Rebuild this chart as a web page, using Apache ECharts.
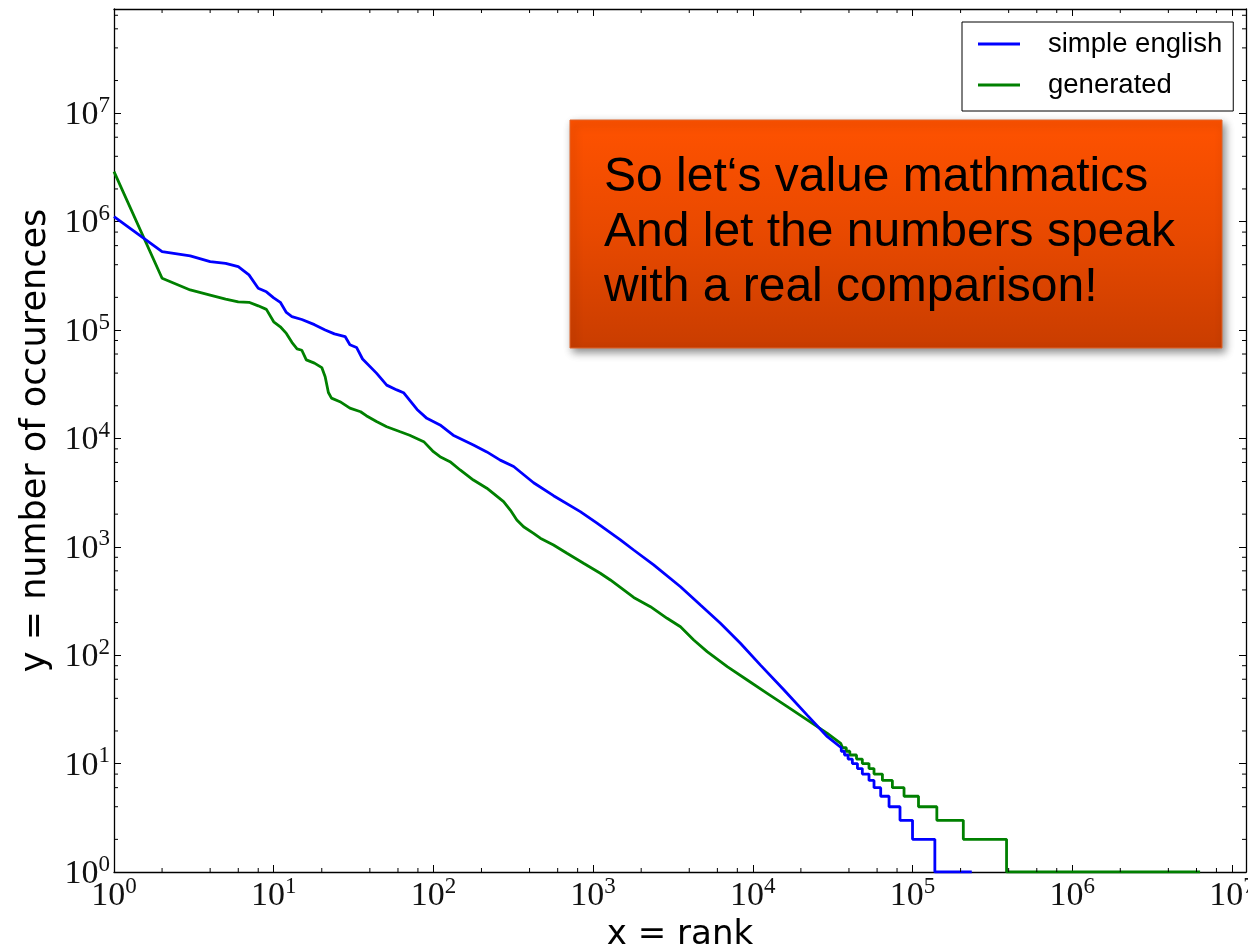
<!DOCTYPE html>
<html>
<head>
<meta charset="utf-8">
<script src="https://cdn.jsdelivr.net/npm/echarts@6/dist/echarts.min.js"></script>
<style>
  html, body { margin: 0; padding: 0; background: #ffffff; }
  #chart { width: 1248px; height: 951px; }
</style>
</head>
<body>
<div id="chart"></div>
<script>
// Rank / frequency of words, simple english vs generated text
const seriesNames = ['simple english', 'generated'];

const blueRank = [1, 2, 3, 4, 5, 6, 7, 8, 9, 10, 11, 12, 13,
  15, 18, 21, 24, 28, 30, 33, 36,
  44, 51, 59, 65, 79, 91,
  110, 133, 178, 216, 262, 318,
  424, 565, 831, 1058, 1482, 1795,
  2394, 3524, 4700, 6268, 8360,
  11170, 15630, 21900, 29300,
  35800, 35800, 37500, 37500, 39500, 39500, 42000, 42000, 45200, 45200,
  48500, 48500, 53400, 53400, 57400, 57400, 63200, 63200, 71300, 71300,
  83500, 83500, 100000, 100000, 138000, 138000, 235000];
const blueCount = [1.11e6, 5.28e5, 4.82e5, 4.27e5, 4.12e5, 3.84e5, 3.22e5, 2.43e5, 2.25e5, 1.98e5, 1.8e5, 1.45e5, 1.33e5,
  1.25e5, 1.12e5, 1.0e5, 9.2e4, 8.7e4, 7.3e4, 6.9e4, 5.4e4,
  4.0e4, 3.1e4, 2.8e4, 2.64e4, 1.85e4, 1.53e4,
  1.33e4, 1.07e4, 8.7e3, 7.5e3, 6.3e3, 5.5e3,
  3.9e3, 2.96e3, 2.11e3, 1.65e3, 1.16e3, 934,
  680, 428, 290, 197, 129,
  81, 48, 28, 17.7,
  14, 13, 13, 12, 12, 11, 11, 10, 10, 9,
  9, 8, 8, 7, 7, 6, 6, 5, 5, 4,
  4, 3, 3, 2, 2, 1, 1];

const greenRank = [1, 2, 3, 4, 5, 6, 7, 8, 9, 10, 11, 12, 13, 14, 15, 16,
  18, 20, 21, 22, 23, 26, 30, 35, 38,
  44, 51, 62, 71, 87, 100,
  110, 127, 147, 178, 216, 275,
  303, 333, 367, 424, 467, 565,
  686, 871, 1109, 1282, 1795, 2285,
  2906, 3524, 4266, 5176, 6918, 9226,
  12300, 16440, 21900, 29300, 35500,
  36500, 36500, 38500, 38500, 40500, 40500, 44600, 44600, 48500, 48500,
  53400, 53400, 57400, 57400, 64800, 64800, 74800, 74800, 88500, 88500,
  109000, 109000, 142000, 142000, 208000, 208000, 388000, 388000, 6320000];
const greenCount = [2.89e6, 3.0e5, 2.34e5, 2.1e5, 1.93e5, 1.82e5, 1.8e5, 1.67e5, 1.55e5, 1.19e5, 1.07e5, 9.3e4, 7.7e4, 6.7e4, 6.5e4, 5.3e4,
  4.95e4, 4.5e4, 3.7e4, 2.65e4, 2.35e4, 2.18e4, 1.9e4, 1.76e4, 1.62e4,
  1.43e4, 1.28e4, 1.15e4, 1.07e4, 9.33e3, 7.54e3,
  6.78e3, 6.1e3, 5.11e3, 4.13e3, 3.47e3, 2.61e3,
  2.18e3, 1.77e3, 1.53e3, 1.33e3, 1.2e3, 1.04e3,
  871, 705, 570, 494, 341, 280,
  219, 183, 138, 108, 78.3, 59,
  44.5, 33.5, 25.3, 19.0, 15.4,
  15, 14, 14, 13, 13, 12, 12, 11, 11, 10,
  10, 9, 9, 8, 8, 7, 7, 6, 6, 5,
  5, 4, 4, 3, 3, 2, 2, 1, 1];

// axis ranges and minor tick multipliers (2, 4, 6, 8 in every decade)
const xRange = [1, 1.225e7];
const yRange = [1, 9.14e7];
const minorMultipliers = [2, 4, 6, 8];
const xDecades = [1, 10, 100, 1e3, 1e4, 1e5, 1e6];
const yDecades = [1, 10, 100, 1e3, 1e4, 1e5, 1e6, 1e7];

const calloutLines = ['So let\u2018s value mathmatics', 'And let the numbers speak', 'with a real comparison!'];

function minorTicks(decades, range) {
  const out = [];
  decades.forEach(d => minorMultipliers.forEach(m => {
    const v = d * m;
    if (v > range[0] && v < range[1]) out.push(v);
  }));
  return out;
}
const xMinor = minorTicks(xDecades, xRange);
const yMinor = minorTicks(yDecades, yRange);

function powLabel(v) {
  const e = Math.log10(v);
  const n = Math.round(e);
  if (Math.abs(e - n) > 1e-6) return '';
  return '{b|10}{s|' + n + '}';
}

const labelRich = {
  b: { fontFamily: 'Liberation Serif', fontSize: 34, color: '#111', lineHeight: 38, verticalAlign: 'bottom' },
  s: { fontFamily: 'Liberation Serif', fontSize: 23, color: '#111', lineHeight: 23, verticalAlign: 'top' }
};

const frameLine = { show: true, lineStyle: { color: '#000', width: 1.3 } };
const majorTick = { show: true, inside: true, length: 7, lineStyle: { color: '#000', width: 1 } };

function frameAxis(position, range) {
  return {
    type: 'log', logBase: 10, position: position, min: range[0], max: range[1],
    axisLine: frameLine, axisTick: majorTick, axisLabel: { show: false },
    splitLine: { show: false }, minorTick: { show: false }
  };
}

const chart = echarts.init(document.getElementById('chart'), null, { renderer: 'canvas' });

chart.setOption({
  animation: false,
  backgroundColor: '#ffffff',
  grid: { left: 114, top: 9, width: 1132, height: 863, containLabel: false, outerBoundsMode: 'none' },
  xAxis: [
    {
      type: 'log', logBase: 10, min: xRange[0], max: xRange[1], position: 'bottom',
      axisLine: frameLine, axisTick: majorTick,
      axisLabel: { formatter: powLabel, rich: labelRich, margin: 3, showMaxLabel: false, hideOverlap: false },
      splitLine: { show: false },
      name: 'x = rank', nameLocation: 'middle', nameGap: 45,
      nameTextStyle: { fontFamily: 'DejaVu Sans', fontSize: 34, color: '#000' }
    },
    frameAxis('top', xRange)
  ],
  yAxis: [
    {
      type: 'log', logBase: 10, min: yRange[0], max: yRange[1], position: 'left',
      axisLine: frameLine, axisTick: majorTick,
      axisLabel: { formatter: powLabel, rich: labelRich, margin: 4, showMaxLabel: false, hideOverlap: false },
      splitLine: { show: false },
      name: 'y = number of occurences', nameLocation: 'middle', nameGap: 60, nameRotate: 90,
      nameTextStyle: { fontFamily: 'DejaVu Sans', fontSize: 35, color: '#000' }
    },
    frameAxis('right', yRange)
  ],
  legend: {
    data: seriesNames,
    orient: 'vertical', left: 962, top: 22,
    backgroundColor: '#ffffff', borderColor: '#000', borderWidth: 1, borderRadius: 0,
    padding: [8, 11, 12, 16],
    icon: 'rect', itemWidth: 42, itemHeight: 3, itemGap: 13,
    selectedMode: false,
    textStyle: { fontFamily: 'Liberation Sans', fontSize: 27.5, color: '#000', lineHeight: 26, padding: [0, 0, 0, 23] }
  },
  series: [
    {
      name: seriesNames[0], type: 'line', xAxisIndex: 0, yAxisIndex: 0,
      data: blueRank.map((r, i) => [r, blueCount[i]]),
      symbol: 'none', showSymbol: false,
      lineStyle: { color: '#0000ff', width: 2.8 }, itemStyle: { color: '#0000ff' },
      z: 3
    },
    {
      name: seriesNames[1], type: 'line', xAxisIndex: 0, yAxisIndex: 0,
      data: greenRank.map((r, i) => [r, greenCount[i]]),
      symbol: 'none', showSymbol: false,
      lineStyle: { color: '#008000', width: 2.8 }, itemStyle: { color: '#008000' },
      z: 2
    },
    {
      // minor ticks along the bottom and top spines
      type: 'custom', xAxisIndex: 0, yAxisIndex: 0, silent: true, z: 5,
      data: xMinor.map(v => [v, 1]),
      renderItem: function (params, api) {
        const cs = params.coordSys;
        const px = api.coord([api.value(0), 1])[0];
        const b = cs.y + cs.height, t = cs.y;
        const st = { stroke: '#000', lineWidth: 1 };
        return { type: 'group', children: [
          { type: 'line', shape: { x1: px, y1: b, x2: px, y2: b - 4 }, style: st },
          { type: 'line', shape: { x1: px, y1: t, x2: px, y2: t + 4 }, style: st }
        ] };
      }
    },
    {
      // minor ticks along the left and right spines
      type: 'custom', xAxisIndex: 0, yAxisIndex: 0, silent: true, z: 5,
      data: yMinor.map(v => [1, v]),
      renderItem: function (params, api) {
        const cs = params.coordSys;
        const py = api.coord([1, api.value(1)])[1];
        const l = cs.x, r = cs.x + cs.width;
        const st = { stroke: '#000', lineWidth: 1 };
        return { type: 'group', children: [
          { type: 'line', shape: { x1: l, y1: py, x2: l + 4, y2: py }, style: st },
          { type: 'line', shape: { x1: r, y1: py, x2: r - 4, y2: py }, style: st }
        ] };
      }
    }
  ],
  graphic: [
    {
      type: 'rect', z: 100,
      shape: { x: 570, y: 120, width: 652, height: 228 },
      style: {
        fill: new echarts.graphic.LinearGradient(0, 0, 0, 1, [
          { offset: 0, color: '#ff5200' },
          { offset: 0.5, color: '#e84900' },
          { offset: 1, color: '#c93d00' }
        ]),
        stroke: '#e0642a', lineWidth: 1,
        shadowBlur: 8, shadowOffsetX: 3, shadowOffsetY: 4, shadowColor: 'rgba(0,0,0,0.45)'
      }
    },
    {
      type: 'text', z: 101, x: 604, y: 233,
      style: {
        text: calloutLines.join('\n'),
        fontFamily: 'Liberation Sans', fontSize: 48, lineHeight: 55,
        fill: '#000', align: 'left', verticalAlign: 'middle'
      }
    }
  ]
});
</script>
</body>
</html>
